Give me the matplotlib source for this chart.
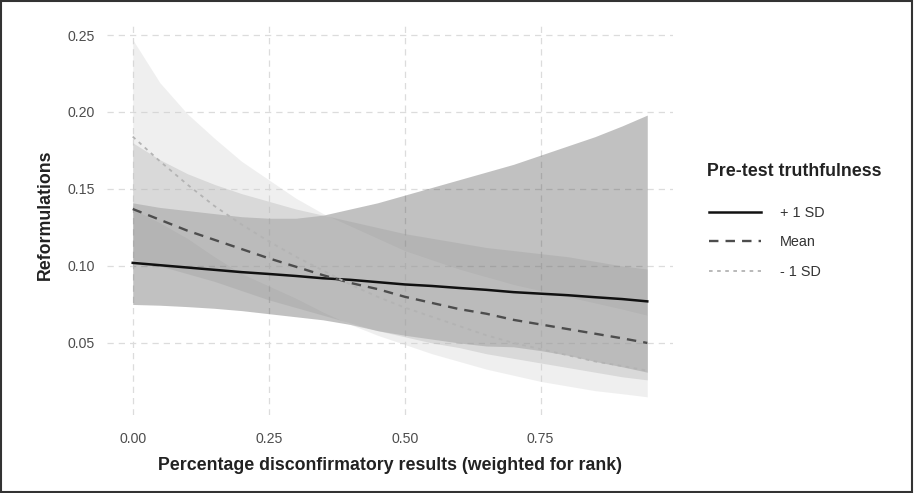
import matplotlib
matplotlib.use("Agg")
import matplotlib.pyplot as plt
from matplotlib.patches import Rectangle
import numpy as np

plt.rcParams['font.family'] = ['Liberation Sans', 'DejaVu Sans']

# x positions (share of disconfirmatory results)
x_vals = [0.00, 0.05, 0.10, 0.15, 0.20, 0.25, 0.30, 0.35, 0.40, 0.45,
          0.50, 0.55, 0.60, 0.65, 0.70, 0.75, 0.80, 0.85, 0.90, 0.946]

# + 1 SD
plus_fit = [0.102, 0.1005, 0.099, 0.0975, 0.096, 0.0948, 0.0935, 0.092, 0.091, 0.0895,
            0.088, 0.087, 0.0857, 0.0845, 0.083, 0.082, 0.081, 0.0797, 0.0785, 0.077]
plus_hi = [0.141, 0.138, 0.136, 0.134, 0.132, 0.131, 0.131, 0.133, 0.137, 0.141,
           0.146, 0.151, 0.156, 0.161, 0.166, 0.172, 0.178, 0.184, 0.191, 0.198]
plus_lo = [0.075, 0.0745, 0.0736, 0.0725, 0.071, 0.069, 0.067, 0.065, 0.062, 0.058,
           0.055, 0.0525, 0.050, 0.048, 0.0475, 0.045, 0.042, 0.038, 0.0345, 0.031]

# Mean
mean_fit = [0.137, 0.130, 0.123, 0.117, 0.111, 0.105, 0.0995, 0.094, 0.089, 0.085,
            0.080, 0.076, 0.072, 0.069, 0.065, 0.062, 0.059, 0.056, 0.053, 0.050]
mean_hi = [0.180, 0.169, 0.160, 0.153, 0.147, 0.142, 0.137, 0.133, 0.129, 0.125,
           0.121, 0.118, 0.115, 0.112, 0.110, 0.108, 0.106, 0.103, 0.100, 0.098]
mean_lo = [0.104, 0.100, 0.095, 0.090, 0.084, 0.078, 0.073, 0.068, 0.063, 0.058,
           0.054, 0.050, 0.047, 0.043, 0.040, 0.037, 0.034, 0.031, 0.028, 0.026]

# - 1 SD
minus_fit = [0.184, 0.168, 0.153, 0.139, 0.127, 0.116, 0.106, 0.097, 0.088, 0.080,
             0.073, 0.067, 0.061, 0.055, 0.050, 0.046, 0.042, 0.038, 0.035, 0.032]
minus_hi = [0.247, 0.219, 0.199, 0.183, 0.168, 0.156, 0.144, 0.134, 0.126, 0.118,
            0.110, 0.104, 0.098, 0.093, 0.088, 0.084, 0.080, 0.076, 0.072, 0.068]
minus_lo = [0.137, 0.128, 0.118, 0.106, 0.095, 0.087, 0.079, 0.070, 0.062, 0.055,
            0.049, 0.043, 0.038, 0.033, 0.029, 0.025, 0.022, 0.019, 0.017, 0.015]

group_labels = ["+ 1 SD", "Mean", "- 1 SD"]
x_ticks = [0.00, 0.25, 0.50, 0.75]
y_ticks = [0.05, 0.10, 0.15, 0.20, 0.25]

fig = plt.figure(figsize=(9.14, 4.93), dpi=100)
ax = fig.add_axes([107/914, 78/493, 566/914, 392/493])

ax.fill_between(x_vals, plus_lo, plus_hi, color="#333333", alpha=0.3, linewidth=0)
ax.fill_between(x_vals, mean_lo, mean_hi, color="#989898", alpha=0.3, linewidth=0)
ax.fill_between(x_vals, minus_lo, minus_hi, color="#cccccc", alpha=0.3, linewidth=0)

l1, = ax.plot(x_vals, plus_fit, color="#111111", lw=1.8, ls="-")
l2, = ax.plot(x_vals, mean_fit, color="#4d4d4d", lw=1.7, dashes=(4, 3))
l3, = ax.plot(x_vals, minus_fit, color="#b3b3b3", lw=1.3, dashes=(2, 2.5))

ax.set_xlim(-0.0473, 0.9933)
ax.set_ylim(0.0032, 0.2578)
ax.set_xticks(x_ticks)
ax.set_xticklabels(["%.2f" % v for v in x_ticks])
ax.set_yticks(y_ticks)
ax.set_yticklabels(["%.2f" % v for v in y_ticks])
ax.tick_params(length=0, labelsize=10.2, labelcolor="#4d4d4d")
ax.tick_params(axis="x", pad=12.5)
ax.tick_params(axis="y", pad=9)
ax.grid(True, color="#dcdcdc", ls=(0, (5, 4)), lw=0.9)
ax.set_axisbelow(True)
for s in ax.spines.values():
	s.set_visible(False)

ax.set_xlabel("Percentage disconfirmatory results (weighted for rank)",
              fontsize=12.8, fontweight="bold", color="#222222", labelpad=8)
ax.set_ylabel("Reformulations", fontsize=12.8, fontweight="bold", color="#222222")
ax.yaxis.set_label_coords(-0.094, 0.51)

# legend title as its own text, entries below it
fig.text(707/914, 1 - 171/493, "Pre-test truthfulness", fontsize=12.8,
         fontweight="bold", color="#222222", ha="left", va="center")
leg = fig.legend([l1, l2, l3], group_labels,
                 loc="upper left", bbox_to_anchor=(696/914, 1 - 193/493),
                 frameon=False, fontsize=10.4,
                 handlelength=3.6, handletextpad=1.3, labelspacing=1.06)
for t in leg.get_texts():
	t.set_color("#333333")

# thin frame around the whole picture
fig.patches.append(Rectangle((0.001, 0.002), 0.997, 0.995, transform=fig.transFigure,
                             fill=False, edgecolor="#333333", linewidth=1.5))

fig.savefig("out.png", dpi=100)
